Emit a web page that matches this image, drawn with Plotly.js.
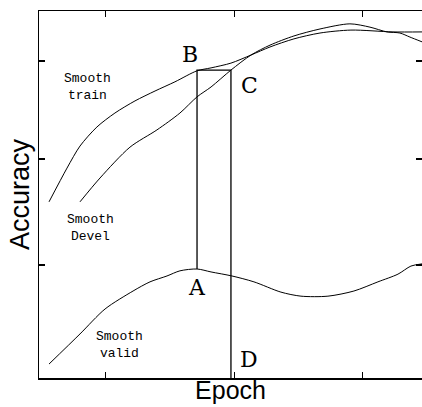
<!DOCTYPE html>
<html>
<head>
<meta charset="utf-8">
<script src="https://cdn.plot.ly/plotly-3.0.1.min.js"></script>
<style>html,body{margin:0;padding:0;background:#fff;}#chart{width:422px;height:407px;}</style>
</head>
<body>
<div id="chart"></div>
<script>
// Smooth train curve
var trainX = [0.078,0.218,0.319,0.451,0.591,0.747,0.903,1.058,1.230,1.339,1.494,1.650,1.798,1.984,2.187,2.428,2.755,2.981];
var trainY = [0.480,0.572,0.632,0.684,0.722,0.755,0.782,0.807,0.837,0.845,0.858,0.880,0.902,0.924,0.940,0.948,0.943,0.943];
// Smooth devel curve
var develX = [0.319,0.475,0.708,0.918,1.097,1.230,1.339,1.494,1.650,1.798,1.984,2.187,2.420,2.576,2.708,2.809,2.887,2.981];
var develY = [0.480,0.545,0.629,0.676,0.722,0.766,0.793,0.839,0.880,0.907,0.932,0.951,0.965,0.956,0.943,0.940,0.929,0.916];
// Smooth valid curve
var validX = [0.078,0.319,0.514,0.732,0.864,0.996,1.097,1.230,1.339,1.502,1.673,1.883,2.039,2.249,2.451,2.638,2.794,2.895,2.981];
var validY = [0.038,0.120,0.188,0.237,0.262,0.278,0.292,0.297,0.289,0.278,0.262,0.234,0.223,0.223,0.237,0.262,0.283,0.305,0.311];
// Marked points A, B, C, D
var pointNames = ["A","B","C","D"];
var pointX = [1.230,1.230,1.494,1.494];
var pointY = [0.297,0.839,0.839,0.0];
// Curve labels
var curveLabels = ["Smooth<br>train","Smooth<br>Devel","Smooth<br>valid"];
var curveLabelX = [0.381,0.397,0.623];
var curveLabelY = [0.793,0.409,0.090];
// Tick positions (no labels shown)
var xTicks = [0.52,1.52,2.52];
var yTicks = [0.308,0.597,0.864];

var curveLine = {color:'#000', width:1, shape:'spline', smoothing:0.8};
var traces = [
  {x:trainX, y:trainY, mode:'lines', line:curveLine, name:'Smooth train', hoverinfo:'skip'},
  {x:develX, y:develY, mode:'lines', line:curveLine, name:'Smooth Devel', hoverinfo:'skip'},
  {x:validX, y:validY, mode:'lines', line:curveLine, name:'Smooth valid', hoverinfo:'skip'},
  // A-B-C-D guide path: A up to B, across to C, down to D
  {x:pointX, y:pointY, mode:'lines', line:{color:'#000', width:1.3}, name:'ABCD', hoverinfo:'skip'}
];

var letterOffsets = {A:[0,-18], B:[-7,16], C:[19,-15], D:[18,19]};
var annotations = [];
for (var i=0;i<pointNames.length;i++){
  var n = pointNames[i];
  annotations.push({x:pointX[i], y:pointY[i], xref:'x', yref:'y', text:n, showarrow:false,
    xshift:letterOffsets[n][0], yshift:letterOffsets[n][1],
    font:{family:'DejaVu Serif, serif', size:22, color:'#000'}});
}
for (var j=0;j<curveLabels.length;j++){
  annotations.push({x:curveLabelX[j], y:curveLabelY[j], xref:'x', yref:'y', text:curveLabels[j], showarrow:false,
    font:{family:'Liberation Mono, DejaVu Sans Mono, monospace', size:13, color:'#000'}});
}

var axisCommon = {showgrid:false, zeroline:false, showline:true, linecolor:'#000', linewidth:1.5,
  mirror:'ticks', ticks:'inside', ticklen:6, tickwidth:1.2, tickcolor:'#000', showticklabels:false, fixedrange:true};

var layout = {
  width:422, height:407,
  margin:{l:39, r:0, t:11, b:29},
  paper_bgcolor:'#fff', plot_bgcolor:'#fff',
  showlegend:false,
  xaxis:Object.assign({}, axisCommon, {range:[0,2.981], tickmode:'array', tickvals:xTicks,
    title:{text:'Epoch', font:{family:'Liberation Sans, Arial, sans-serif', size:25, color:'#000'}, standoff:3}}),
  yaxis:Object.assign({}, axisCommon, {range:[0,1], tickmode:'array', tickvals:yTicks,
    title:{text:'Accuracy', font:{family:'Liberation Sans, Arial, sans-serif', size:27, color:'#000'}, standoff:0}}),
  annotations:annotations
};
Plotly.newPlot('chart', traces, layout, {displayModeBar:false, staticPlot:true});
</script>
</body>
</html>
